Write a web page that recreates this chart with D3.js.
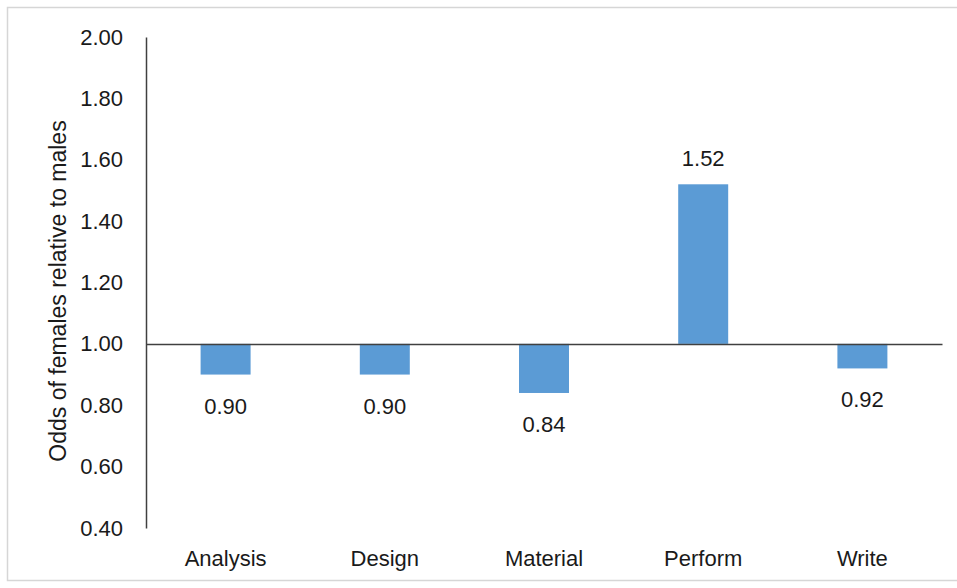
<!DOCTYPE html>
<html>
<head>
<meta charset="utf-8">
<script src="https://cdn.jsdelivr.net/npm/d3@7"></script>
<style>
  html, body { margin: 0; padding: 0; background: #fff; }
  text { font-family: Arial, "Liberation Sans", sans-serif; fill: #1a1a1a; }
</style>
</head>
<body>
<div id="chart-container"></div>
<script>
const categories = ["Analysis", "Design", "Material", "Perform", "Write"];
const oddsValues = [0.90, 0.90, 0.84, 1.52, 0.92];
const yTickValues = [0.40, 0.60, 0.80, 1.00, 1.20, 1.40, 1.60, 1.80, 2.00];
const yTitle = "Odds of females relative to males";

const chartWidth = 957;
const chartHeight = 588;
const plot = {left: 146, right: 942, top: 37, bottom: 528};
const barColor = "#5b9bd5";
const fontSize = 22;

const chartSvg = d3.select("#chart-container").append("svg")
    .attr("width", chartWidth)
    .attr("height", chartHeight);

// outer frame
chartSvg.append("rect")
    .attr("x", 7.5)
    .attr("y", 7.5)
    .attr("width", 960)
    .attr("height", 573)
    .attr("fill", "#fff")
    .attr("stroke", "#d6d6d6")
    .attr("stroke-width", 1.5);

const xScale = d3.scaleBand()
    .domain(categories)
    .range([plot.left, plot.right])
    .paddingInner(0.686)
    .paddingOuter(0.343);

const yScale = d3.scaleLinear()
    .domain([0.4, 2.0])
    .range([plot.bottom, plot.top]);

const baseY = yScale(1.0);

// bars grow from 1.00
chartSvg.selectAll(".bar")
    .data(categories)
    .enter()
    .append("rect")
    .attr("class", "bar")
    .attr("x", d => xScale(d))
    .attr("width", xScale.bandwidth())
    .attr("y", (d, i) => Math.min(yScale(oddsValues[i]), baseY))
    .attr("height", (d, i) => Math.abs(yScale(oddsValues[i]) - baseY))
    .attr("fill", barColor);

// y axis (line + labels, no ticks)
const yAxis = d3.axisLeft(yScale)
    .tickValues(yTickValues)
    .tickFormat(d3.format(".2f"))
    .tickSize(0)
    .tickPadding(23);

const yAxisG = chartSvg.append("g")
    .attr("transform", `translate(${plot.left}, 0)`)
    .call(yAxis);
yAxisG.select(".domain").attr("stroke", "#404040").attr("stroke-width", 1.5);
yAxisG.selectAll("text")
    .attr("fill", "#1a1a1a")
    .style("font-size", fontSize + "px")
    .style("font-family", "Arial, 'Liberation Sans', sans-serif");

// horizontal axis at 1.00
const xAxis = d3.axisBottom(xScale).tickSize(0).tickFormat("");
const xAxisG = chartSvg.append("g")
    .attr("transform", `translate(0, ${baseY})`)
    .call(xAxis);
xAxisG.select(".domain").attr("stroke", "#404040").attr("stroke-width", 1.5);

// category labels at the bottom
chartSvg.selectAll(".cat-label")
    .data(categories)
    .enter()
    .append("text")
    .attr("class", "cat-label")
    .attr("x", d => xScale(d) + xScale.bandwidth() / 2)
    .attr("y", 566)
    .attr("text-anchor", "middle")
    .style("font-size", fontSize + "px")
    .text(d => d);

// value labels
chartSvg.selectAll(".value-label")
    .data(categories)
    .enter()
    .append("text")
    .attr("class", "value-label")
    .attr("x", d => xScale(d) + xScale.bandwidth() / 2)
    .attr("y", (d, i) => oddsValues[i] >= 1
        ? yScale(oddsValues[i]) - 18
        : yScale(oddsValues[i]) + 39)
    .attr("text-anchor", "middle")
    .style("font-size", fontSize + "px")
    .text((d, i) => d3.format(".2f")(oddsValues[i]));

// y axis title
chartSvg.append("text")
    .attr("transform", "rotate(-90)")
    .attr("x", -291)
    .attr("y", 66)
    .attr("text-anchor", "middle")
    .style("font-size", "23px")
    .text(yTitle);
</script>
</body>
</html>
